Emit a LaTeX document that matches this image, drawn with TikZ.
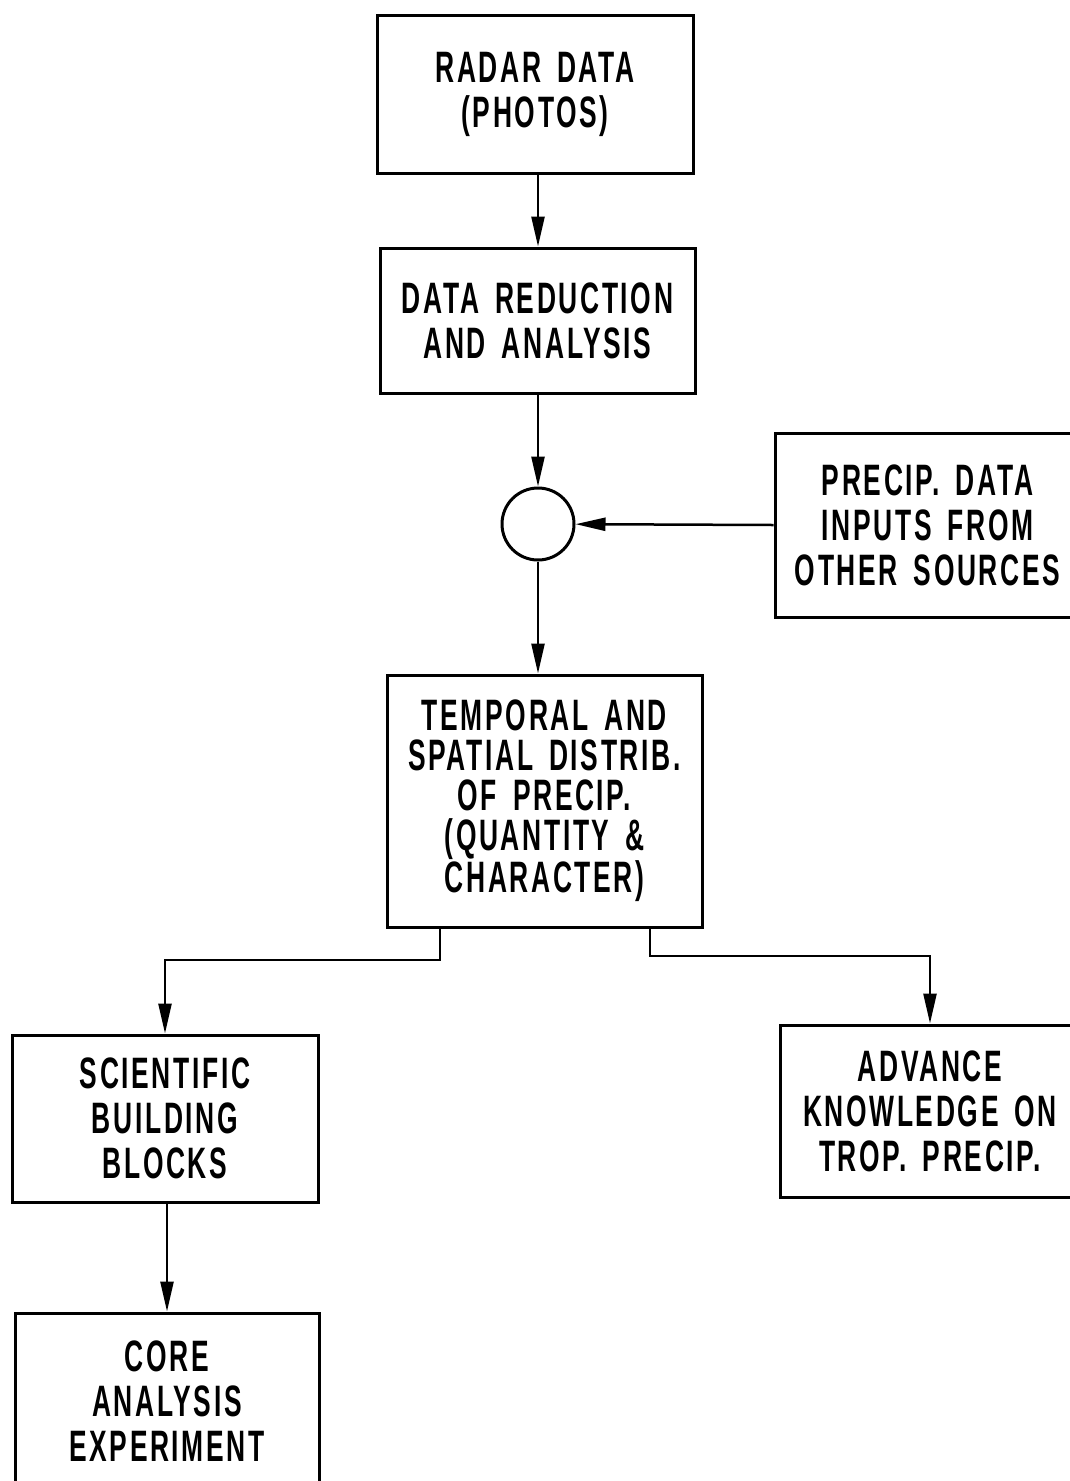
\documentclass[tikz,border=0pt]{standalone}
\usepackage{fontspec}
\setmainfont{Liberation Sans}[FakeStretch=0.6, LetterSpace=6, WordSpace=1.6]
\usetikzlibrary{arrows.meta}
\tikzset{
  box/.style={draw, line width=3pt, rectangle, inner sep=0pt, align=center,
    font=\fontsize{44}{45}\selectfont\bfseries},
  conn/.style={line width=2.5pt},
  arr/.style={conn, -{Triangle[length=30pt,width=13pt]}},
}
\begin{document}
\begin{tikzpicture}[x=1pt,y=-1pt]
\useasboundingbox (0,0) rectangle (1070,1481);
\fill[white] (0,0) rectangle (1070,1481);

\node[box, minimum width=316pt, minimum height=158pt] (r) at (535,94) {RADAR DATA\\(PHOTOS)};
\node[box, minimum width=315pt, minimum height=145pt] (d) at (537.5,320.5) {DATA REDUCTION\\AND ANALYSIS};
\node[draw, circle, line width=3pt, minimum size=72pt, inner sep=0pt] (c) at (538,524) {};
\node[box, minimum width=305pt, minimum height=184pt] (p) at (927.5,525) {PRECIP. DATA\\INPUTS FROM\\OTHER SOURCES};
\node[box, minimum width=315pt, minimum height=252pt, font=\fontsize{44}{40}\selectfont\bfseries] (t) at (544.5,801) {TEMPORAL AND\\SPATIAL DISTRIB.\\OF PRECIP.\\(QUANTITY \&\\CHARACTER)};
\node[box, minimum width=306pt, minimum height=167pt] (s) at (165,1118.5) {SCIENTIFIC\\BUILDING\\BLOCKS};
\node[box, minimum width=300pt, minimum height=172pt] (a) at (930,1111) {ADVANCE\\KNOWLEDGE ON\\TROP. PRECIP.};
\node[box, minimum width=304pt, minimum height=176pt] (e) at (167,1401) {CORE\\ANALYSIS\\EXPERIMENT};

\coordinate (lb) at (440,960);
\coordinate (rb) at (650,956);

\draw[arr] (r.south -| c) -- (d.north -| c);
\draw[arr] (d.south -| c) -- (c.north);
\draw[arr] (p.west) -- (c);
\draw[arr] (c.south) -- (t.north -| c);
\draw[arr] (t.south -| lb) -- (lb) -| (s.north);
\draw[arr] (t.south -| rb) -- (rb) -| (a.north);
\draw[arr] (s.south -| e) -- (e.north);
\end{tikzpicture}
\end{document}
